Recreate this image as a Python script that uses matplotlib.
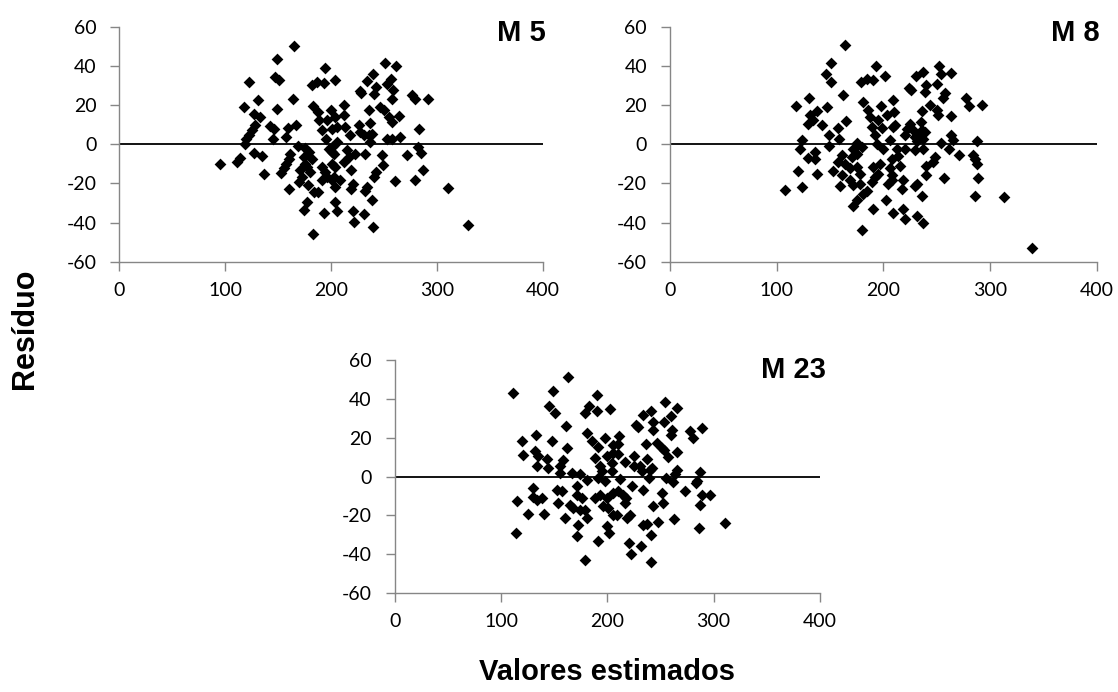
import matplotlib.pyplot as plt

plt.rcParams['axes.unicode_minus'] = False

# residuals vs fitted values, three models
m5_x = [165, 148.8, 194, 122.7, 147, 150.7, 204, 182, 186.7, 193.6, 131, 163.7, 117.6, 148.5, 183,
        126.8, 132.4, 188, 200, 128.3, 125.2, 122, 119.8, 142.5, 145.7, 159.2, 157.6, 166.8, 145,
        188.9, 196, 191, 118.9, 168.7, 175.6, 178.8, 195.5, 197.7, 200.9, 126.8, 134.6, 113.5, 111,
        94.6, 161.4, 159.9, 157.7, 155.1, 153, 136.8, 174, 175.6, 170.9, 172.5, 169.3, 181.9, 177.2,
        180.4, 191.4, 194.5, 196.1, 191.4, 200.9, 204, 204, 160.5, 178.2, 183.5, 187.3, 177.2, 174,
        204, 193.6, 205.6, 182.9,
        251.3, 260.8, 239.3, 233.4, 256.7, 252.3, 227, 228.6, 241.9, 240.9, 258.3, 257.6, 276, 279.1,
        291.4, 211.9, 235.6, 246, 249.8, 204, 211.9, 254.5, 257.6, 264, 282.9, 200.9, 205.6, 213.5,
        226.1, 236.5, 227.7, 230.8, 235.6, 238.7, 237.1, 218.2, 252.9, 257.6, 264.9, 205.6, 200.9,
        202.5, 200.9, 202.5, 208.8, 215, 222.9, 231.8, 211.9, 216.6, 218.9, 248.2, 249.1, 271.8, 282,
        285.1, 241.9, 240.3, 220.7, 218.9, 234, 232.4, 260.2, 278.8, 287, 310.3, 220.7, 230.8, 222,
        238.7, 239.3, 329.5]
m5_y = [50, 43.4, 39, 31.6, 34.4, 32.7, 32.7, 30.1, 31.8, 31.3, 22.8, 23.3, 19, 17.9, 19.4,
        15.6, 13.9, 16.5, 17.7, 9.7, 7.1, 4.6, 2.9, 9.2, 8, 8.3, 3.7, 9.7, 2.9,
        12.2, 12.2, 7.5, 0, -1, -1.7, -4, 2.9, -2.2, -4, -4.4, -6.1, -6.8, -9,
        -10.2, -4.8, -7.3, -9.9, -12.4, -14.7, -15, -6.5, -9.9, -13.3, -16.7, -19.3, -7.3, -11.6,
        -14.1, -11.6, -14.1, -16.7, -18.4, -18.4, -11.6, -21.8, -22.7, -21, -24.4, -24.4, -29.5, -33.7,
        -29.5, -35.1, -34.1, -45.6,
        41.5, 40, 35.7, 32.3, 33.5, 30.6, 27.2, 25.9, 29.3, 25.5, 27.6, 23.3, 25, 23.3,
        23, 19.9, 17.7, 19.1, 17.7, 13.9, 14.8, 13.9, 11.4, 14.5, 8, 8, 8.8, 8.8,
        9.7, 10.9, 6.3, 4.6, 4.6, 5.4, 1.2, 4.6, 2.9, 2.9, 3.7, 1.2, -1.4,
        -4.8, -9.9, -16.7, -18.4, -2.7, -4.8, -4.8, -9, -6.5, -13.3, -5.6, -10.7, -5.6, -1.4,
        -4.4, -14.1, -16.7, -20.1, -22.7, -21.8, -23.8, -18.7, -18.4, -13.3, -22.3, -34.1, -35.4, -39.7,
        -28.3, -42.2, -41.2]

m8_x = [164, 150.9, 192.7, 145.9, 150.9, 201.8, 179, 184.3, 190.6, 162.1, 130.6, 117.7, 147.4, 138,
        131.2, 129.6, 134.3, 181.2, 185.9, 187.4, 197.7, 203, 209.3, 142.1, 164.9, 157.7, 189, 195.2,
        198.4, 209.3, 149.3, 158.7, 123.4, 121.8, 149.3, 174.9, 171.8, 179.6, 192.1, 193.7, 200, 206.2,
        135.9, 129.6, 135.9, 160.9, 157.7, 164, 170.2, 174.9, 120.2, 137.4, 153, 160.9, 168.7, 174.9,
        178, 168.7, 171.8, 178, 190.6, 196.8, 192.1, 189, 195.2, 206.2, 204.6, 207.7, 159.3, 107.7,
        124, 184.3, 181.2, 174.9, 171.8, 202.4, 190.6, 208.7, 180.2,
        252.1, 236.8, 230.6, 253.7, 263.7, 250, 239.6, 224, 225.6, 239, 257.8, 256.2, 277.5, 280,
        292.8, 243.7, 250, 251.5, 235.9, 263.1, 209.9, 234.9, 225, 210.9, 221.8, 228.1, 235.9, 239,
        220.3, 229.6, 232.8, 237.5, 231.2, 263.1, 265.6, 253.7, 288.1, 212.5, 220.3, 229.6, 237.5,
        261.8, 271.2, 284.3, 285.9, 288.1, 248.4, 246.2, 214, 207.8, 215.6, 239.6, 239.6, 257.1, 289,
        207.8, 218.7, 217.1, 231.8, 229.6, 236.5, 285.9, 313.4, 218.7, 220.3, 231.8, 236.8, 339.6]
m8_y = [50.9, 41.7, 39.8, 36.1, 31.8, 35, 31.8, 33.5, 33, 25.2, 23.5, 19.7, 19, 17,
        14.8, 10.5, 12.2, 21.6, 17.3, 13.9, 19.6, 15.1, 22.5, 9.7, 11.6, 8.3, 8.8, 12.2,
        8.5, 8.8, 4.6, 2.9, 2, -2.2, -1, 0.7, -2.2, -1.4, 4.6, 0.3, -2.2, 2,
        -4, -6.8, -7.3, -5.6, -9, -9.9, -6.5, -4.8, -13.8, -15.3, -13.6, -15.8, -12.4, -11.6,
        -15, -18.4, -21, -20.1, -11.6, -9.9, -16.7, -19.3, -15, -12.4, -20.1, -15.8, -21.3, -23.2,
        -22.1, -23.8, -25.2, -28.6, -31.5, -28.3, -33, -35.1, -43.6,
        40, 36.9, 34.7, 35.7, 36.4, 31, 30.1, 28.9, 27.6, 26.7, 25.9, 23.8, 23.8, 19.6,
        19.9, 20.2, 17.7, 15.1, 17, 14.5, 16.5, 11.4, 10.5, 9.7, 8, 7.1, 7.1, 6.3,
        4.6, 3.7, 4.6, 2.9, 1.7, 4.9, 2, 0.7, 1.7, -2.2, -2.2, -2.7, -2.2,
        -2.6, -5.6, -5.6, -7.3, -9.9, -6.5, -9, -6.1, -7.3, -11.3, -11.3, -15.8, -17, -17.2,
        -18.4, -18.1, -22.7, -20.1, -21.3, -26.4, -26.4, -26.9, -32.9, -38, -36.6, -40.2, -53]

m23_x = [163.3, 111.5, 149.2, 190.5, 145.4, 150.7, 183, 178.9, 190.5, 202.5, 161.1, 132.9, 119.4,
         148.2, 180.5, 185.2, 191.5, 197.8, 205.6, 121, 161.7, 131.9, 135.1, 134.1, 142.9, 144.5,
         157.9, 155.4, 155.4, 188.4, 193.1, 199.3, 204, 205.6, 194.6, 204, 166.4, 174.2, 180.5, 191.5,
         197.8, 152.3, 157, 153.9, 130.4, 130.4, 138.2, 134.1, 114.7, 125.7, 140.4, 171.1, 171.1,
         175.8, 164.8, 168, 174.2, 178.9, 180.5, 160.1, 188.4, 193.1, 199.3, 196.2, 200.9, 205.6,
         172.7, 171.1, 199.3, 201.8, 190.9, 113.7, 179,
         254.2, 265.2, 240.7, 233.8, 259.6, 253.6, 242.6, 242.6, 227, 229.1, 260.5, 259.9, 277.7,
         280.9, 289.3, 211.3, 210.3, 236.4, 247, 251.1, 253.3, 265.2, 257.4, 210.3, 216.6, 225.4,
         225.1, 230.7, 237, 232.3, 240.1, 239.5, 241.7, 265.2, 263.6, 287.1, 211.9, 255.2, 262.1,
         273, 283.4, 284.6, 223.5, 233.8, 205.6, 210.3, 215, 217.5, 216.6, 251.1, 252, 243.3, 288.7,
         296.5, 287.1, 208.8, 218.2, 221.3, 247.3, 237, 233.8, 262.7, 240.7, 286.2, 310.7, 220.4,
         231.3, 222.3, 240.7]
m23_y = [51.3, 42.8, 44, 41.9, 36.3, 32.5, 36.3, 32.5, 33.7, 34.8, 26, 21.4, 18,
         18.3, 22.3, 18, 15.4, 19.7, 16.3, 10.8, 14.9, 12.9, 10.3, 5.2, 9.1, 4.3,
         8.6, 5.2, 1.8, 9.5, 5.2, 10.3, 6.9, 12, 2.6, 2.6, 1.8, 1.3, -1.7, -0.8,
         -2.5, -6.8, -7.6, -13.6, -5.9, -10.7, -11.1, -11.9, -12.8, -19.1, -19.1, -5.1, -9.4,
         -11.1, -14.5, -16.2, -17, -17, -21.3, -21.3, -11.1, -9.4, -11.1, -15.3, -16.2, -19.6,
         -24.7, -30.7, -25.6, -29, -32.9, -29, -43,
         38.5, 35.4, 33.7, 31.7, 31.2, 27.9, 27.9, 24, 26.5, 25.2, 24, 21.4, 23.5,
         19.7, 24.8, 20.9, 16.6, 16.8, 17.1, 14.6, 13.7, 12.4, 9.8, 11.5, 7.2, 10.3,
         5.2, 5.2, 9.1, 2.6, 3.5, -0.8, 4.3, 3.5, 1.3, 2.3, -1.1, -0.8, -2.9,
         -7.3, -3.4, -2.2, -4.7, -6.8, -8.5, -7.6, -9.4, -11.1, -13.6, -8.5, -13.6, -15.3, -9.4,
         -9.7, -14.8, -19.6, -21.3, -19.6, -23.5, -24.4, -25.1, -21.8, -29.9, -26.4, -23.9, -34.1,
         -35.8, -39.8, -43.9]

panels = [("M 5", m5_x, m5_y), ("M 8", m8_x, m8_y), ("M 23", m23_x, m23_y)]
boxes = [[0.1067, 0.6218, 0.3790, 0.3396],
         [0.5993, 0.6218, 0.3817, 0.3396],
         [0.3530, 0.1426, 0.3804, 0.3376]]
label_pos = [(0.466, 0.9516), (0.9616, 0.9516), (0.710, 0.466)]

grey = "#868686"
fig = plt.figure(figsize=(11.18, 6.92), dpi=100)

for (name, xs, ys), box, (lx, ly) in zip(panels, boxes, label_pos):
    ax = fig.add_axes(box)
    ax.scatter(xs, ys, marker="D", s=36, color="black", linewidths=0, zorder=3)
    ax.axhline(0, color="black", lw=1.3, zorder=2)
    ax.set_xlim(0, 400)
    ax.set_ylim(-60, 60)
    ax.set_xticks([0, 100, 200, 300, 400])
    ax.set_yticks(range(-60, 61, 20))
    for s in ["top", "right"]:
        ax.spines[s].set_visible(False)
    for s in ["left", "bottom"]:
        ax.spines[s].set_color(grey)
        ax.spines[s].set_linewidth(1.0)
    ax.tick_params(axis="both", direction="out", length=6.5, width=1.0, color=grey,
                   labelsize=14, labelcolor="black")
    ax.tick_params(axis="y", pad=10)
    ax.tick_params(axis="x", pad=8)
    for t in ax.get_xticklabels() + ax.get_yticklabels():
        t.set_family("Lato")
    fig.text(lx, ly, name, ha="center", va="center", fontsize=21,
             fontweight="bold", family="Liberation Sans")

fig.text(0.0224, 0.5246, "Resíduo", rotation=90, ha="center", va="center",
         fontsize=22, fontweight="bold", family="Liberation Sans")
fig.text(0.543, 0.029, "Valores estimados", ha="center", va="center",
         fontsize=21, fontweight="bold", family="Liberation Sans")

fig.savefig("out.png", dpi=100)
